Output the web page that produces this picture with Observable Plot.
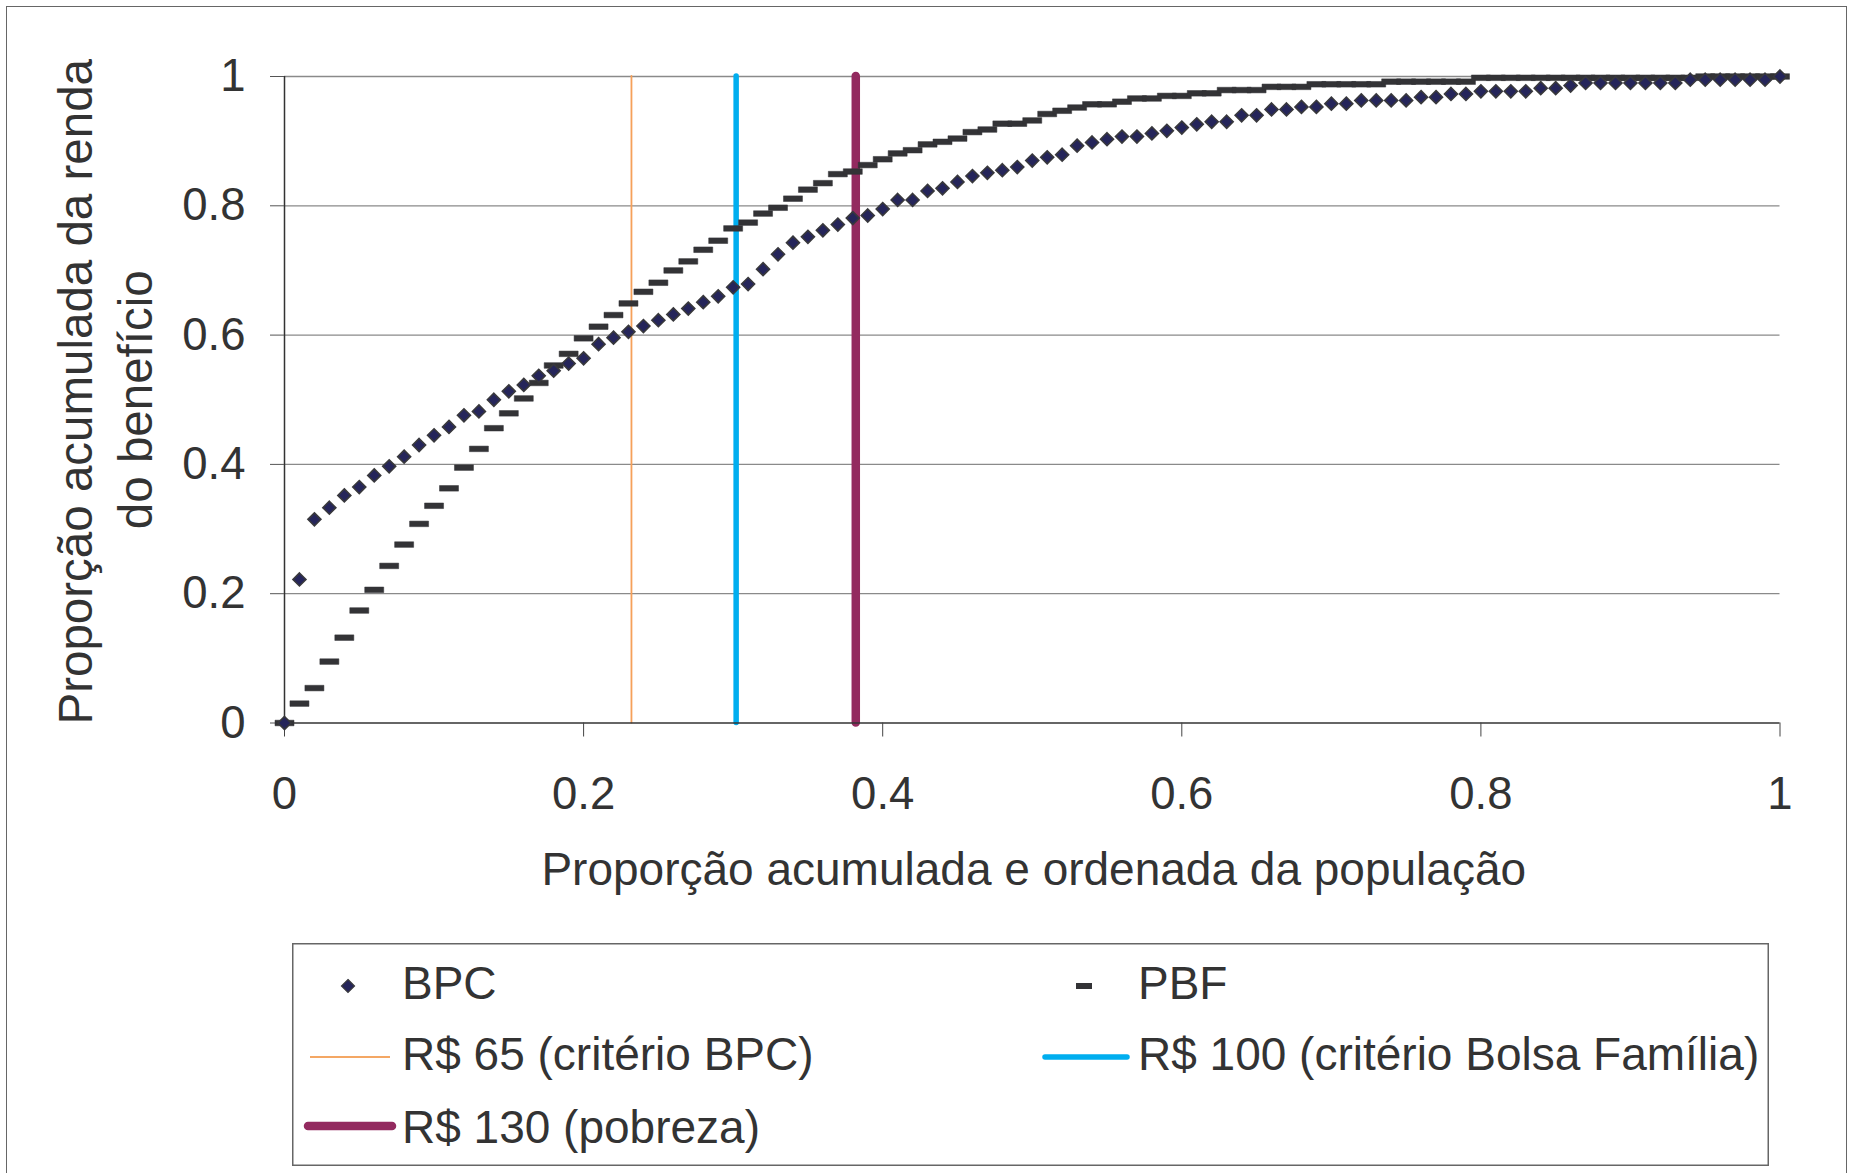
<!DOCTYPE html>
<html><head><meta charset="utf-8">
<script src="https://cdn.jsdelivr.net/npm/d3@7"></script>
<script src="https://cdn.jsdelivr.net/npm/@observablehq/plot@0.6"></script>
<style>
html,body{margin:0;padding:0;background:#fff;overflow:hidden;}
#wrap{position:relative;width:1855px;height:1173px;overflow:hidden;font-family:"Liberation Sans",Arial,sans-serif;color:#333;}
#frame{position:absolute;left:6px;top:6px;width:1841px;height:1300px;border:1.7px solid #666;box-sizing:border-box;}
#chart{position:absolute;left:0;top:0;}
#legend{position:absolute;left:292px;top:943px;}
</style></head>
<body><div id="wrap"><div id="frame"></div><div id="chart"></div><div id="legend"></div></div>
<script>
// Cumulative population share (x) — one observation every 0.01
const popShare = [0,0.01,0.02,0.03,0.04,0.05,0.06,0.07,0.08,0.09,0.1,0.11,0.12,0.13,0.14,0.15,0.16,0.17,0.18,0.19,0.2,0.21,0.22,0.23,0.24,0.25,0.26,0.27,0.28,0.29,0.3,0.31,0.32,0.33,0.34,0.35,0.36,0.37,0.38,0.39,0.4,0.41,0.42,0.43,0.44,0.45,0.46,0.47,0.48,0.49,0.5,0.51,0.52,0.53,0.54,0.55,0.56,0.57,0.58,0.59,0.6,0.61,0.62,0.63,0.64,0.65,0.66,0.67,0.68,0.69,0.7,0.71,0.72,0.73,0.74,0.75,0.76,0.77,0.78,0.79,0.8,0.81,0.82,0.83,0.84,0.85,0.86,0.87,0.88,0.89,0.9,0.91,0.92,0.93,0.94,0.95,0.96,0.97,0.98,0.99,1];
// BPC cumulative benefit share
const bpc = [0,0.222,0.315,0.333,0.352,0.365,0.383,0.397,0.412,0.430,0.445,0.458,0.476,0.482,0.500,0.513,0.523,0.537,0.545,0.556,0.564,0.586,0.596,0.605,0.614,0.623,0.632,0.641,0.651,0.660,0.674,0.679,0.702,0.725,0.743,0.752,0.762,0.771,0.781,0.785,0.795,0.809,0.809,0.823,0.827,0.837,0.846,0.851,0.855,0.860,0.870,0.875,0.879,0.893,0.898,0.903,0.907,0.907,0.912,0.916,0.921,0.926,0.930,0.930,0.940,0.940,0.949,0.949,0.953,0.953,0.958,0.958,0.963,0.963,0.963,0.963,0.968,0.968,0.973,0.973,0.977,0.977,0.977,0.977,0.982,0.982,0.986,0.990,0.990,0.990,0.990,0.990,0.990,0.990,0.995,0.995,0.995,0.995,0.995,0.995,1.000];
// PBF cumulative benefit share
const pbf = [0,0.030,0.054,0.095,0.132,0.174,0.206,0.243,0.276,0.308,0.336,0.363,0.395,0.424,0.456,0.479,0.502,0.526,0.553,0.571,0.595,0.613,0.631,0.649,0.667,0.681,0.700,0.714,0.732,0.746,0.765,0.774,0.788,0.797,0.811,0.825,0.835,0.849,0.853,0.863,0.872,0.881,0.886,0.895,0.899,0.904,0.914,0.918,0.927,0.927,0.932,0.942,0.947,0.952,0.957,0.957,0.961,0.966,0.966,0.970,0.970,0.974,0.974,0.979,0.979,0.979,0.984,0.984,0.984,0.988,0.988,0.988,0.988,0.988,0.992,0.992,0.992,0.992,0.992,0.992,0.998,0.998,0.998,0.998,0.998,0.998,0.998,0.998,0.998,0.998,0.998,0.998,0.998,0.998,0.998,1,1,1,1,1,1];

// Reference income thresholds (population share)
const thresholdNames = ["R$ 65 (critério BPC)", "R$ 100 (critério Bolsa Família)", "R$ 130 (pobreza)"];
const thresholdX = [0.232, 0.302, 0.382];
const thresholdColors = ["#f5a05a", "#00aeef", "#932a5f"];
const thresholdWidths = [1.8, 5.5, 8.5];

const seriesNames = ["BPC", "PBF"];
const xTicks = [0, 0.2, 0.4, 0.6, 0.8, 1];
const xTickLabels = ["0", "0.2", "0.4", "0.6", "0.8", "1"];
const yTicks = [0, 0.2, 0.4, 0.6, 0.8, 1];
const yTickLabels = ["0", "0.2", "0.4", "0.6", "0.8", "1"];
const xTitle = "Proporção acumulada e ordenada da população";
const yTitle = ["Proporção acumulada da renda", "do benefício"];

const rows = popShare.map((x, i) => ({x, bpc: bpc[i], pbf: pbf[i]}));
const thresholds = thresholdX.map((x, i) => ({x, name: thresholdNames[i], color: thresholdColors[i], w: thresholdWidths[i]}));

const diamond = {draw(ctx) { const r = 6.5; ctx.moveTo(0, -r); ctx.lineTo(r, 0); ctx.lineTo(0, r); ctx.lineTo(-r, 0); ctx.closePath(); }};
const dash = {draw(ctx) { ctx.rect(-9.5, -2.8, 19, 5.6); }};

const W = 1855, H = 930;
const chart = Plot.plot({
  width: W, height: H,
  marginLeft: 284, marginRight: 75.5, marginTop: 76, marginBottom: 207.5,
  style: {fontFamily: "'Liberation Sans', Arial, sans-serif", fontSize: "45px", color: "#333", background: "transparent", overflow: "visible"},
  x: {domain: [0, 1]},
  y: {domain: [0, 1]},
  marks: [
    Plot.ruleY(yTicks.filter(d => d > 0), {y: d => d, stroke: "#8a8a8a", strokeWidth: 1.3}),
    ...thresholds.map(t => Plot.ruleX([t], {x: "x", y1: 0, y2: 1, stroke: t.color, strokeWidth: t.w, strokeLinecap: "round"})),
    Plot.ruleX([0], {stroke: "#333", strokeWidth: 1.5}),
    Plot.ruleY([0], {stroke: "#333", strokeWidth: 1.5}),
    Plot.axisX({ticks: xTicks, tickSize: 14, tickPadding: 40, tickFormat: (d, i) => xTickLabels[i], fontSize: 45.5, stroke: "#444", label: null}),
    Plot.axisY({ticks: yTicks, tickSize: 14, tickPadding: 25, tickFormat: (d, i) => yTickLabels[i], fontSize: 45.5, stroke: "#555", label: null}),
    Plot.dot(rows, {x: "x", y: "pbf", symbol: dash, fill: "#333336", stroke: "#333336", strokeWidth: 0.5, r: 5}),
    Plot.dot(rows, {x: "x", y: "bpc", symbol: diamond, fill: "#25255a", stroke: "#38383c", strokeWidth: 1.6, r: 5}),
    Plot.text([xTitle], {text: d => d, frameAnchor: "bottom", lineAnchor: "top", dy: 129, dx: 1.5, fontSize: 46, fill: "#333"}),
    Plot.text([yTitle[0]], {text: d => d, frameAnchor: "left", rotate: -90, textAnchor: "middle", lineAnchor: "middle", dx: -207.5, dy: -8, fontSize: 47.5, fill: "#333"}),
    Plot.text([yTitle[1]], {text: d => d, frameAnchor: "left", rotate: -90, textAnchor: "middle", lineAnchor: "middle", dx: -147.5, dy: 0, fontSize: 47.5, fill: "#333"})
  ]
});
document.getElementById("chart").appendChild(chart);

// Legend (below the chart SVG)
const LW = 1477, LH = 223;
const FS = 46;
const lg = d3.select("#legend").append("svg").attr("width", LW).attr("height", LH)
  .style("font-family", "'Liberation Sans', Arial, sans-serif").style("overflow", "visible");
lg.append("rect").attr("x", 0.75).attr("y", 0.75).attr("width", LW - 1.5).attr("height", LH - 1.5)
  .attr("fill", "#fff").attr("stroke", "#666").attr("stroke-width", 1.5);
const tx1 = 110, tx2 = 846;
// BPC
lg.append("path").attr("transform", "translate(56,43)").attr("d", "M0,-6.5L6.5,0L0,6.5L-6.5,0Z").attr("fill", "#25255a").attr("stroke", "#38383c").attr("stroke-width", 1.2);
lg.append("text").attr("x", tx1).attr("y", 56).attr("font-size", FS).attr("fill", "#333").text(seriesNames[0]);
// PBF
lg.append("rect").attr("x", 784).attr("y", 40).attr("width", 16).attr("height", 6).attr("fill", "#333336");
lg.append("text").attr("x", tx2).attr("y", 56).attr("font-size", FS).attr("fill", "#333").text(seriesNames[1]);
// Threshold lines
const lpos = [{x1: 18, x2: 98, y: 114, tx: tx1, ty: 127}, {x1: 753, x2: 835, y: 114, tx: tx2, ty: 127}, {x1: 16, x2: 100, y: 183, tx: tx1, ty: 200}];
thresholds.forEach((t, i) => {
  const p = lpos[i];
  lg.append("line").attr("x1", p.x1).attr("x2", p.x2).attr("y1", p.y).attr("y2", p.y)
    .attr("stroke", i === 0 ? "#f08a30" : t.color).attr("stroke-width", i === 0 ? 1.5 : t.w).attr("stroke-linecap", i === 0 ? "butt" : "round");
  lg.append("text").attr("x", p.tx).attr("y", p.ty).attr("font-size", FS).attr("fill", "#333").text(t.name);
});
</script>
</body></html>
